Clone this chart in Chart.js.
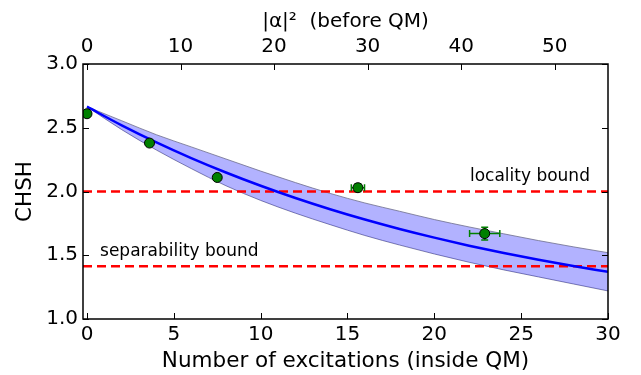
<!DOCTYPE html>
<html>
<head>
<meta charset="utf-8">
<script src="https://cdn.jsdelivr.net/npm/chart.js@4/dist/chart.umd.min.js"></script>
<style>
	html, body { margin: 0; padding: 0; background: #fff; }
	#wrap { width: 641px; height: 375px; }
</style>
</head>
<body>
<div id="wrap"><canvas id="chart" width="641" height="375"></canvas></div>
<script>
// measured points (number of excitations vs CHSH)
const excitations = [0, 3.6, 7.5, 15.6, 22.9]
const chshValues = [2.61, 2.38, 2.11, 2.03, 1.67]
const excErr = [0.1, 0.15, 0.15, 0.38, 0.87]
const chshErr = [0.01, 0.015, 0.015, 0.03, 0.05]

// theory curve and its band
const curveN = [0, 2, 4, 6, 8, 10, 12, 14, 16, 18, 20, 22, 24, 26, 28, 30]
const curveMid = [2.665, 2.519, 2.385, 2.262, 2.149, 2.045, 1.949, 1.861, 1.780, 1.706, 1.638, 1.575, 1.517, 1.464, 1.415, 1.370]
const curveUpper = [2.665, 2.555, 2.445, 2.35, 2.255, 2.16, 2.07, 1.985, 1.91, 1.845, 1.78, 1.722, 1.668, 1.615, 1.566, 1.52]
const curveLower = [2.665, 2.485, 2.325, 2.18, 2.045, 1.93, 1.83, 1.74, 1.655, 1.58, 1.51, 1.445, 1.385, 1.33, 1.275, 1.22]

const localityBound = 2.0
const separabilityBound = 1.414

const xRange = [-0.23, 30]
const topRange = [-0.43, 55.7]
const yRange = [1.0, 3.0]

const xTicks = [0, 5, 10, 15, 20, 25, 30]
const topTicks = [0, 10, 20, 30, 40, 50]
const yTicks = [1.0, 1.5, 2.0, 2.5, 3.0]

const notes = [
	{text: "locality bound", x: 22.05, y: 2.082},
	{text: "separability bound", x: 0.75, y: 1.494},
]

Chart.defaults.font.family = "'DejaVu Sans', sans-serif"
Chart.defaults.color = "#000"

function pts(xs, ys) {
	return xs.map((x, i) => ({x: x, y: ys[i]}))
}

function fixTicks(list) {
	return function(scale) {
		scale.ticks = list.map(v => ({value: v}))
	}
}

const errorBars = {
	id: "errorBars",
	beforeDatasetDraw(chart, args) {
		if (args.index !== 0) return
		const ctx = chart.ctx
		const xs = chart.scales.x, ys = chart.scales.y
		ctx.save()
		ctx.strokeStyle = "#008000"
		ctx.lineWidth = 1.5
		for (let i = 0; i < excitations.length; i++) {
			const cx = xs.getPixelForValue(excitations[i])
			const cy = ys.getPixelForValue(chshValues[i])
			const x0 = xs.getPixelForValue(excitations[i] - excErr[i])
			const x1 = xs.getPixelForValue(excitations[i] + excErr[i])
			const y0 = ys.getPixelForValue(chshValues[i] - chshErr[i])
			const y1 = ys.getPixelForValue(chshValues[i] + chshErr[i])
			ctx.beginPath()
			ctx.moveTo(x0, cy); ctx.lineTo(x1, cy)
			ctx.moveTo(x0, cy - 3.5); ctx.lineTo(x0, cy + 3.5)
			ctx.moveTo(x1, cy - 3.5); ctx.lineTo(x1, cy + 3.5)
			ctx.moveTo(cx, y0); ctx.lineTo(cx, y1)
			ctx.moveTo(cx - 3.5, y0); ctx.lineTo(cx + 3.5, y0)
			ctx.moveTo(cx - 3.5, y1); ctx.lineTo(cx + 3.5, y1)
			ctx.stroke()
		}
		ctx.restore()
	}
}

const frame = {
	id: "frame",
	afterDraw(chart) {
		const ctx = chart.ctx
		const a = chart.chartArea
		const xs = chart.scales.x, x2 = chart.scales.x2, ys = chart.scales.y
		ctx.save()
		ctx.strokeStyle = "#000"
		ctx.lineWidth = 1
		ctx.beginPath()
		xTicks.forEach(v => {
			const p = Math.round(xs.getPixelForValue(v)) + 0.5
			ctx.moveTo(p, a.bottom); ctx.lineTo(p, a.bottom - 6)
		})
		topTicks.forEach(v => {
			const p = Math.round(x2.getPixelForValue(v)) + 0.5
			ctx.moveTo(p, a.top); ctx.lineTo(p, a.top + 6)
		})
		yTicks.forEach(v => {
			const p = Math.round(ys.getPixelForValue(v)) + 0.5
			ctx.moveTo(a.left, p); ctx.lineTo(a.left + 6, p)
			ctx.moveTo(a.right, p); ctx.lineTo(a.right - 6, p)
		})
		ctx.stroke()
		ctx.lineWidth = 1.5
		ctx.strokeRect(a.left, a.top, a.right - a.left, a.bottom - a.top)
		ctx.font = "17px 'DejaVu Sans'"
		ctx.fillStyle = "#000"
		ctx.textBaseline = "alphabetic"
		notes.forEach(n => {
			ctx.fillText(n.text, xs.getPixelForValue(n.x), ys.getPixelForValue(n.y))
		})
		ctx.restore()
	}
}

new Chart(document.getElementById("chart"), {
	type: "line",
	data: {
		datasets: [{
			label: "data",
			type: "scatter",
			data: pts(excitations, chshValues),
			pointRadius: 5,
			pointBackgroundColor: "#008000",
			pointBorderColor: "#000",
			pointBorderWidth: 1,
			order: 0,
		}, {
			label: "fit",
			data: pts(curveN, curveMid),
			borderColor: "#0000ff",
			borderWidth: 2.5,
			pointRadius: 0,
			cubicInterpolationMode: "monotone",
			fill: false,
			order: 1,
		}, {
			label: "locality",
			data: pts(xRange, [localityBound, localityBound]),
			borderColor: "#ff0000",
			borderWidth: 2.5,
			borderDash: [9, 5],
			pointRadius: 0,
			fill: false,
			order: 2,
		}, {
			label: "separability",
			data: pts(xRange, [separabilityBound, separabilityBound]),
			borderColor: "#ff0000",
			borderWidth: 2.5,
			borderDash: [9, 5],
			pointRadius: 0,
			fill: false,
			order: 2,
		}, {
			label: "lower",
			data: pts(curveN, curveLower),
			borderColor: "rgba(110,110,140,0.8)",
			borderWidth: 1,
			pointRadius: 0,
			cubicInterpolationMode: "monotone",
			fill: false,
			order: 4,
		}, {
			label: "upper",
			data: pts(curveN, curveUpper),
			borderColor: "rgba(110,110,140,0.8)",
			backgroundColor: "rgba(0,0,255,0.3)",
			borderWidth: 1,
			pointRadius: 0,
			cubicInterpolationMode: "monotone",
			fill: "-1",
			order: 3,
		}],
	},
	options: {
		animation: false,
		responsive: false,
		devicePixelRatio: 1,
		layout: { padding: { left: 0, right: 33, top: 0, bottom: 0 } },
		plugins: {
			legend: { display: false },
			tooltip: { enabled: false },
		},
		scales: {
			x: {
				type: "linear",
				position: "bottom",
				min: xRange[0],
				max: xRange[1],
				afterBuildTicks: fixTicks(xTicks),
				afterFit: s => { s.height = 56 },
				grid: { display: false, drawTicks: false },
				border: { display: false },
				ticks: { font: { size: 20 }, padding: 4, maxRotation: 0 },
				title: { display: true, text: "Number of excitations (inside QM)", font: { size: 21.5 }, padding: { top: 0, bottom: 1 } },
			},
			x2: {
				type: "linear",
				position: "top",
				min: topRange[0],
				max: topRange[1],
				afterBuildTicks: fixTicks(topTicks),
				afterFit: s => { s.height = 64 },
				grid: { display: false, drawTicks: false },
				border: { display: false },
				ticks: { font: { size: 20 }, padding: 5, maxRotation: 0 },
				title: { display: true, text: "|α|²  (before QM)", font: { size: 20 }, padding: { top: 10, bottom: 0 } },
			},
			y: {
				type: "linear",
				position: "left",
				min: yRange[0],
				max: yRange[1],
				afterBuildTicks: fixTicks(yTicks),
				afterFit: s => { s.width = 83 },
				grid: { display: false, drawTicks: false },
				border: { display: false },
				ticks: { font: { size: 20 }, padding: 5, callback: v => v.toFixed(1) },
				title: { display: true, text: "CHSH", font: { size: 21.5 }, padding: { top: 13, bottom: 0 } },
			},
		},
	},
	plugins: [errorBars, frame],
})
</script>
</body>
</html>
